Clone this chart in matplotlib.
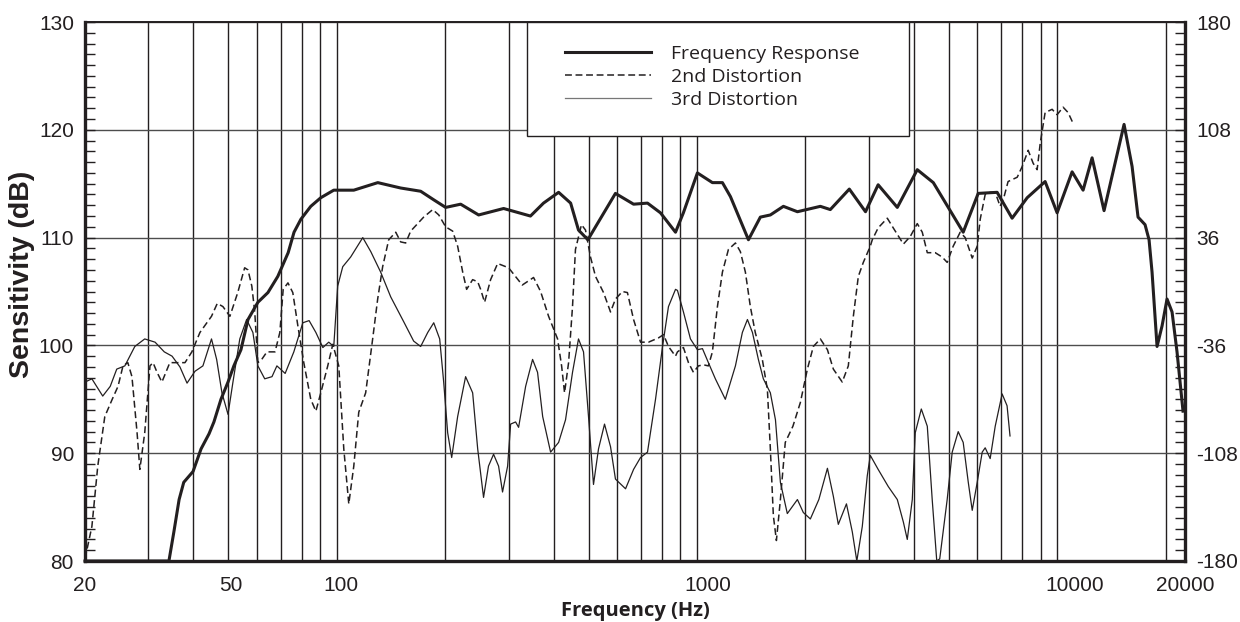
import matplotlib
matplotlib.use("Agg")
import matplotlib.pyplot as plt
from matplotlib.patches import Rectangle
from matplotlib.ticker import MultipleLocator, NullLocator, NullFormatter, FixedLocator

plt.rcParams["axes.unicode_minus"] = False

#%% data (Hz, dB)
fr_freq = [20, 34.2, 35.3, 36.5, 37.6, 39.9, 42.0, 44.2, 45.6, 47.7,
           49.9, 51.8, 54.2, 56.7, 60.4, 64.4, 68.6, 73.3, 76.1, 79.5,
           84.7, 90.3, 98.1, 111.5, 130, 150.5, 171, 186, 200.6, 220.8,
           247.7, 290.6, 345, 375, 413, 446, 469, 498, 523, 594,
           667, 729, 792, 872, 917, 1003, 1104, 1177, 1239, 1390,
           1500, 1599, 1738, 1901, 2201, 2346, 2649, 2938, 3185, 3600,
           4090, 4532, 5486, 6038, 6815, 7500, 8259, 9262, 10000, 11006,
           11807, 12506, 13500, 15342, 16150, 16776, 17545, 18000, 18348, 18944,
           19558, 20193, 20851, 21524, 22364]
fr_db = [80.0, 80.0, 82.7, 85.7, 87.3, 88.3, 90.4, 91.8, 92.9, 95.0,
         96.6, 98.1, 99.6, 102.4, 104.0, 104.9, 106.4, 108.6, 110.5, 111.7,
         112.9, 113.7, 114.4, 114.4, 115.1, 114.6, 114.3, 113.5, 112.8, 113.1,
         112.1, 112.7, 112.0, 113.2, 114.2, 113.2, 110.7, 109.8, 111.0, 114.1,
         113.1, 113.2, 112.3, 110.5, 112.3, 116.0, 115.1, 115.1, 113.8, 109.8,
         111.9, 112.1, 112.9, 112.4, 112.9, 112.6, 114.5, 112.4, 114.9, 112.8,
         116.3, 115.1, 110.5, 114.1, 114.2, 111.8, 113.7, 115.2, 112.3, 116.1,
         114.4, 117.4, 112.5, 120.5, 116.6, 111.9, 111.2, 109.8, 106.8, 99.9,
         101.8, 104.3, 103.1, 99.4, 93.9]

d2_freq = [20.0, 20.9, 21.7, 22.7, 23.8, 24.7, 25.5, 26.3, 27.0, 27.9,
           28.4, 29.3, 30.3, 30.9, 31.7, 32.7, 34.4, 35.9, 37.9, 39.6,
           41.7, 44.9, 46.6, 48.3, 50.5, 53.1, 55.5, 56.7, 58.1, 59.2,
           60.4, 61.9, 64.0, 67.4, 69.5, 71.0, 73.2, 75.5, 78.0, 81.0,
           84.7, 87.5, 90.3, 94.4, 97.5, 101.3, 104.6, 108.0, 111.5, 115.1,
           120.3, 125.8, 129.9, 134.1, 139.4, 145.8, 150.5, 155.4, 160.4, 167.8,
           174.3, 184.7, 192, 200.6, 209.8, 216.6, 223.7, 229.4, 238.4, 246.2,
           250.9, 257.3, 267.4, 279.7, 300, 327.4, 351.9, 368.1, 387.4, 410.3,
           421, 429, 440.2, 451.4, 460, 478, 490.5, 506.4, 522.9, 550.4,
           575.6, 594, 621.2, 641.2, 667, 697.3, 733.9, 782.4, 807.7, 833.6,
           871.8, 883, 917.4, 947.2, 977.9, 1009.6, 1042.4, 1076, 1104, 1140,
           1177, 1223, 1279, 1320, 1363, 1407, 1452, 1519, 1569, 1599,
           1630, 1662, 1705, 1759, 1847, 1937, 2026, 2105, 2201, 2303,
           2392, 2532, 2632, 2718, 2806, 2897, 3029, 3068, 3185, 3377,
           3508, 3743, 3911, 4090, 4223, 4361, 4587, 4795, 4952, 5146,
           5382, 5557, 5812, 6000, 6116, 6314, 6519, 6732, 6946, 7125,
           7309, 7749, 8000, 8312, 8579, 8801, 8980, 9262, 9686, 10000,
           10390, 10727, 11075]
d2_db = [80.2, 83.2, 88.8, 93.4, 95.0, 96.2, 98.1, 98.4, 97.1, 91.9,
         88.5, 91.9, 98.1, 98.4, 97.5, 96.6, 98.4, 98.4, 98.4, 99.4,
         101.2, 102.7, 103.9, 103.6, 102.7, 104.9, 107.2, 107.0, 105.5, 103.1,
         98.4, 98.7, 99.4, 99.4, 101.2, 105.2, 105.8, 104.9, 101.8, 98.4,
         95.0, 93.9, 95.6, 98.1, 100.1, 98.1, 90.4, 85.3, 88.8, 93.8,
         95.6, 100.6, 104.3, 107.3, 109.8, 110.5, 109.6, 109.5, 110.6, 111.3,
         111.9, 112.6, 112.1, 111.0, 110.6, 109.2, 106.8, 105.2, 106.1, 105.9,
         105.2, 104.0, 106.1, 107.6, 107.2, 105.6, 106.3, 105.0, 102.7, 100.6,
         98.1, 95.6, 98.4, 103.6, 108.9, 111.2, 110.7, 108.2, 106.4, 104.9,
         103.1, 104.3, 105.0, 104.9, 102.4, 100.3, 100.3, 100.7, 101.0, 99.9,
         99.0, 99.4, 99.8, 98.4, 97.5, 98.1, 98.2, 98.1, 99.4, 103.6,
         106.8, 108.9, 109.5, 108.7, 106.8, 103.6, 101.2, 98.7, 95.9, 90.4,
         84.2, 81.9, 85.7, 91.0, 92.5, 94.7, 97.8, 99.9, 100.6, 99.6,
         97.8, 96.6, 98.1, 102.7, 106.4, 107.7, 109.2, 109.8, 110.9, 111.8,
         110.9, 109.4, 110.1, 111.3, 110.5, 108.6, 108.6, 108.2, 107.7, 109.2,
         110.5, 110.0, 108.1, 109.2, 111.7, 114.0, 114.2, 114.2, 112.9, 113.8,
         115.2, 115.6, 116.6, 118.1, 116.9, 116.3, 118.8, 121.6, 121.9, 121.4,
         122.1, 121.6, 120.6]

d3_freq = [20.0, 20.9, 22.4, 23.5, 24.5, 25.8, 27.5, 29.3, 31.3, 33.2,
           34.9, 36.7, 38.4, 40.4, 42.5, 44.9, 46.4, 48.0, 49.9, 51.5,
           53.8, 56.2, 58.5, 60.4, 63.1, 66.1, 68.2, 71.9, 76.0, 80.5,
           83.8, 87.5, 91.5, 95.0, 98.1, 100.6, 103.9, 109.3, 118.1, 124.3,
           132.4, 141.2, 153.4, 163.5, 171, 178.9, 185.9, 193.1, 198.1, 203.2,
           208.5, 216.6, 227.9, 238.4, 246.2, 255.6, 263.8, 272.5, 281.4, 288.6,
           298.1, 303.9, 313.7, 319.8, 334.5, 349.7, 361, 373, 392.4, 413,
           431.7, 451.4, 469, 484.3, 500, 516.2, 533, 553.9, 575.6, 594,
           633.6, 667, 697.3, 729, 767.4, 802.6, 833.6, 872, 883, 917.4,
           959.4, 1003, 1036, 1076, 1125, 1199, 1279, 1337, 1381, 1426,
           1481, 1529, 1599, 1652, 1705, 1782, 1901, 1974, 2065, 2180,
           2303, 2392, 2469, 2601, 2700, 2779, 2878, 2971, 3029, 3185,
           3399, 3600, 3743, 3837, 3962, 4038, 4197, 4361, 4500, 4633,
           4722, 4952, 5114, 5314, 5486, 5667, 5812, 6000, 6195, 6314,
           6519, 6732, 7036, 7262, 7400]
d3_db = [96.6, 96.9, 95.3, 96.2, 97.8, 98.1, 99.9, 100.6, 100.3, 99.4,
         99.0, 98.0, 96.5, 97.6, 98.1, 100.6, 98.7, 95.6, 93.6, 96.6,
         100.6, 102.4, 101.2, 98.1, 96.9, 97.1, 98.1, 97.4, 99.4, 102.1,
         102.3, 101.2, 99.8, 100.3, 99.9, 105.5, 107.3, 108.2, 110.0, 108.7,
         106.8, 104.5, 102.2, 100.4, 99.9, 101.2, 102.1, 100.6, 96.6, 91.9,
         89.6, 93.4, 97.1, 95.6, 90.4, 85.9, 88.8, 89.9, 88.8, 86.4,
         88.8, 92.7, 92.9, 92.4, 96.2, 98.7, 97.5, 93.4, 90.1, 91.0,
         93.1, 97.5, 100.6, 99.4, 93.4, 87.1, 90.4, 92.7, 90.6, 87.6,
         86.7, 88.5, 89.6, 90.1, 95.0, 99.9, 103.6, 105.2, 105.1, 103.1,
         100.6, 99.6, 99.7, 98.4, 96.9, 95.0, 98.1, 101.2, 102.4, 101.2,
         98.7, 96.9, 95.6, 93.1, 87.3, 84.4, 85.7, 84.5, 83.9, 85.7,
         88.6, 86.0, 83.4, 85.3, 82.7, 80.0, 83.2, 87.9, 89.8, 88.5,
         86.9, 85.7, 83.6, 82.0, 85.7, 91.9, 94.1, 92.5, 85.7, 80.0,
         80.2, 85.7, 90.1, 92.0, 91.0, 87.3, 84.7, 87.3, 90.1, 90.5,
         89.5, 92.5, 95.5, 94.4, 91.6]

grid_freqs = [30, 40, 50, 60, 70, 80, 90, 100, 200, 300, 400, 500, 600, 700,
              800, 900, 1000, 2000, 3000, 4000, 5000, 6000, 7000, 8000, 9000,
              10000, 20000]
x_labels = [20, 50, 100, 1000, 10000, 20000]
left_ticks = [80, 90, 100, 110, 120, 130]
right_ticks = [-180, -108, -36, 36, 108, 180]
series_names = ["Frequency Response", "2nd Distortion", "3rd Distortion"]

ink = "#231f20"

#%% figure
fig = plt.figure(figsize=(12.4, 6.22), dpi=100)
ax = fig.add_axes([85/1240, 1-561/622, 1100/1240, 539/622])
ax.set_xscale("log")
ax.set_xlim(20, 22650)
ax.set_ylim(80, 130)

ax.xaxis.set_major_locator(FixedLocator(grid_freqs))
ax.xaxis.set_minor_locator(NullLocator())
ax.xaxis.set_major_formatter(NullFormatter())
ax.tick_params(axis="x", length=0)
ax.grid(axis="x", color=ink, lw=1.0)

ax.set_yticks(left_ticks)
ax.yaxis.set_minor_locator(MultipleLocator(1))
ax.tick_params(axis="y", which="both", direction="in", length=7, width=1,
               color=ink, labelcolor=ink, labelsize=15, pad=8)
ax.grid(axis="y", color="#4d4d4d", lw=1.0)
for lab in ax.get_yticklabels():
    lab.set_fontfamily("Liberation Sans")

for s in ["left", "bottom", "right"]:
    ax.spines[s].set_linewidth(2.4)
    ax.spines[s].set_color(ink)
ax.spines["top"].set_linewidth(1.4)
ax.spines["top"].set_color(ink)

l1, = ax.plot(fr_freq, fr_db, color=ink, lw=2.2, zorder=3, clip_on=False)
l2, = ax.plot(d2_freq, d2_db, color=ink, lw=1.1, dashes=(4.5, 2.4), zorder=3)
l3, = ax.plot(d3_freq, d3_db, color=ink, lw=0.9, zorder=3)

# legend box
ax.add_patch(Rectangle((0.402, 0.789), 0.347, 0.211, transform=ax.transAxes,
                       facecolor="white", edgecolor=ink, lw=1.0, zorder=4,
                       clip_on=False))
leg = ax.legend([l1, l2, l3], series_names, loc="upper left",
                bbox_to_anchor=(0.4275, 0.975), frameon=False, borderpad=0,
                handlelength=4.4, handletextpad=1.05, labelspacing=0.24,
                prop={"family": "Open Sans", "size": 14})
leg.set_zorder(5)
leg.get_lines()[2].set_color("#777777")
for t in leg.get_texts():
    t.set_color(ink)

# right axis
ax_r = ax.twinx()
ax_r.set_ylim(-180, 180)
ax_r.set_yticks(right_ticks)
ax_r.yaxis.set_minor_locator(MultipleLocator(7.2))
ax_r.tick_params(axis="y", which="both", direction="in", length=7, width=1,
                 color=ink, labelcolor=ink, labelsize=15, pad=8)
for lab in ax_r.get_yticklabels():
    lab.set_fontfamily("Liberation Sans")
for s in ax_r.spines.values():
    s.set_visible(False)

# bottom labels on nominal 20-20000 scale
ax_b = ax.twiny()
ax_b.set_xscale("log")
ax_b.set_xlim(20, 20000)
ax_b.xaxis.set_ticks_position("bottom")
ax_b.set_xticks(x_labels)
ax_b.set_xticklabels([str(v) for v in x_labels], fontfamily="Liberation Sans")
ax_b.xaxis.set_minor_locator(NullLocator())
ax_b.tick_params(axis="x", length=0, labelsize=15, labelcolor=ink, pad=11)
for s in ax_b.spines.values():
    s.set_visible(False)

fig.text(635/1240, 1-611/622, "Frequency (Hz)", ha="center", va="center",
         fontsize=14.5, fontweight="bold", family="Open Sans", color=ink)
fig.text(22/1240, 1-274/622, "Sensitivity (dB)", ha="center", va="center",
         rotation=90, fontsize=20.5, fontweight="bold", family="Liberation Sans",
         color=ink)

fig.savefig("out.png", dpi=100, facecolor="white")
